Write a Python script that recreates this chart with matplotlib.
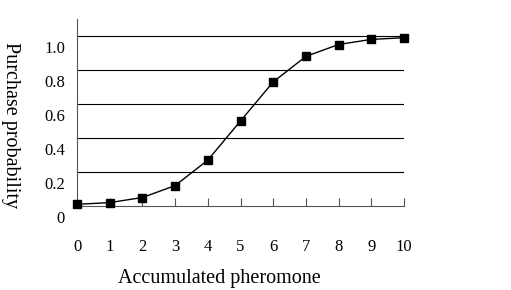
import matplotlib
matplotlib.use("Agg")
import matplotlib.pyplot as plt
import matplotlib.transforms as mtransforms

# data
pheromone = [0, 1, 2, 3, 4, 5, 6, 7, 8, 9, 10]
probability = [0.01, 0.02, 0.05, 0.12, 0.27, 0.50, 0.73, 0.88, 0.95, 0.98, 0.99]
y_ticks = [0, 0.2, 0.4, 0.6, 0.8, 1.0]
y_tick_labels = ["0", "0.2", "0.4", "0.6", "0.8", "1.0"]

plt.rcParams["font.family"] = ["Liberation Serif", "DejaVu Serif"]

fig = plt.figure(figsize=(5.11, 2.9), dpi=100)
ax = fig.add_axes([77 / 511, 84 / 290, 327 / 511, 187 / 290])

ax.plot(
    pheromone,
    probability,
    "-s",
    color="black",
    markersize=6,
    linewidth=1,
    clip_on=False,
    zorder=3,
)

ax.set_xlim(0, 10)
ax.set_ylim(0, 1.1)

# horizontal grid lines
for v in y_ticks[1:]:
    ax.axhline(v, color="black", linewidth=0.8, zorder=1)

ax.spines["top"].set_visible(False)
ax.spines["right"].set_visible(False)
ax.spines["left"].set_color("#555555")
ax.spines["bottom"].set_color("#555555")

ax.set_xticks(pheromone)
ax.tick_params(axis="x", direction="in", length=6, width=0.8, color="#555555",
               pad=24, labelsize=12)
ax.set_yticks([])

# y labels sit a bit below their grid lines in the original
offset = mtransforms.ScaledTranslation(-12 / 100, -13 / 100, fig.dpi_scale_trans)
trans = mtransforms.blended_transform_factory(ax.transAxes, ax.transData) + offset
for v, lab in zip(y_ticks, y_tick_labels):
    ax.text(0, v, lab, transform=trans, ha="right", va="center", fontsize=12)

fig.text(219 / 511, 12 / 290, "Accumulated pheromone",
         ha="center", va="center", fontsize=14.5)
fig.text(10 / 511, 1 - 125 / 290, "Purchase probability",
         ha="center", va="center", rotation=-90, fontsize=14.5)

fig.savefig("out.png", dpi=100)
